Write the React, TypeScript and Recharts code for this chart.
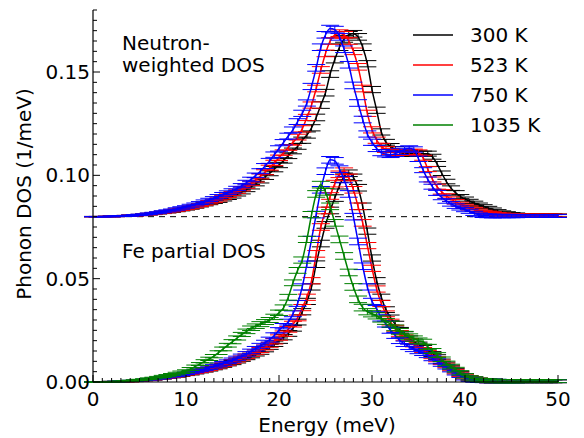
import React from 'react';
import { LineChart, Line, XAxis, YAxis, ErrorBar, ReferenceLine, Legend, Customized } from 'recharts';

// energy grid (meV)
const ENERGY = [
  0, 0.5, 1, 1.5, 2, 2.5, 3, 3.5, 4, 4.5,
  5, 5.5, 6, 6.5, 7, 7.5, 8, 8.5, 9, 9.5,
  10, 10.5, 11, 11.5, 12, 12.5, 13, 13.5, 14, 14.5,
  15, 15.5, 16, 16.5, 17, 17.5, 18, 18.5, 19, 19.5,
  20, 20.5, 21, 21.5, 22, 22.5, 23, 23.5, 24, 24.5,
  25, 25.5, 26, 26.5, 27, 27.5, 28, 28.5, 29, 29.5,
  30, 30.5, 31, 31.5, 32, 32.5, 33, 33.5, 34, 34.5,
  35, 35.5, 36, 36.5, 37, 37.5, 38, 38.5, 39, 39.5,
  40, 40.5, 41, 41.5, 42, 42.5, 43, 43.5, 44, 44.5,
  45, 45.5, 46, 46.5, 47, 47.5, 48, 48.5, 49, 49.5,
  50,
];

// Fe partial DOS (1/meV)
const FE_300 = [
  0, 0, 0, 0.0001, 0.0001, 0.0001, 0.0002, 0.0003, 0.0004, 0.0005,
  0.0007, 0.0009, 0.0011, 0.0013, 0.0016, 0.0019, 0.0022, 0.0025, 0.0029, 0.0033,
  0.0037, 0.0041, 0.0046, 0.0051, 0.0056, 0.0061, 0.0067, 0.0073, 0.008, 0.0087,
  0.0094, 0.0102, 0.011, 0.0119, 0.0128, 0.0137, 0.0146, 0.0158, 0.017, 0.0185,
  0.02, 0.0217, 0.0235, 0.026, 0.029, 0.034, 0.039, 0.046, 0.057, 0.067,
  0.076, 0.083, 0.089, 0.095, 0.0995, 0.101, 0.099, 0.094, 0.085, 0.073,
  0.06, 0.049, 0.041, 0.035, 0.031, 0.028, 0.025, 0.023, 0.021, 0.0195,
  0.018, 0.0165, 0.015, 0.0135, 0.012, 0.01, 0.0085, 0.007, 0.0055, 0.004,
  0.003, 0.002, 0.0015, 0.001, 0.0008, 0.0006, 0.0005, 0.0004, 0.0004, 0.0004,
  0.0004, 0.0004, 0.0004, 0.0004, 0.0004, 0.0004, 0.0004, 0.0004, 0.0004, 0.0004,
  0.0004,
];
const FE_523 = [
  0, 0, 0, 0.0001, 0.0001, 0.0001, 0.0002, 0.0003, 0.0004, 0.0005,
  0.0007, 0.0009, 0.0011, 0.0014, 0.0017, 0.002, 0.0023, 0.0027, 0.0031, 0.0035,
  0.0039, 0.0043, 0.0048, 0.0053, 0.0058, 0.0064, 0.007, 0.0077, 0.0084, 0.0091,
  0.0099, 0.0107, 0.0116, 0.0125, 0.0135, 0.0145, 0.0155, 0.0167, 0.018, 0.0197,
  0.0215, 0.0234, 0.0255, 0.028, 0.031, 0.036, 0.041, 0.049, 0.062, 0.075,
  0.083, 0.09, 0.096, 0.1005, 0.102, 0.099, 0.093, 0.085, 0.077, 0.066,
  0.055, 0.045, 0.038, 0.033, 0.029, 0.026, 0.0235, 0.0215, 0.0198, 0.0183,
  0.017, 0.0155, 0.014, 0.0125, 0.011, 0.0095, 0.008, 0.0065, 0.005, 0.0037,
  0.0025, 0.0018, 0.0012, 0.0009, 0.0007, 0.0005, 0.0004, 0.0004, 0.0004, 0.0004,
  0.0004, 0.0004, 0.0004, 0.0004, 0.0004, 0.0004, 0.0004, 0.0004, 0.0004, 0.0004,
  0.0004,
];
const FE_750 = [
  0, 0, 0, 0.0001, 0.0001, 0.0002, 0.0003, 0.0004, 0.0005, 0.0006,
  0.0008, 0.001, 0.0013, 0.0015, 0.0018, 0.0021, 0.0025, 0.0029, 0.0033, 0.0037,
  0.0042, 0.0047, 0.0052, 0.0057, 0.0063, 0.0069, 0.0076, 0.0083, 0.009, 0.0098,
  0.0106, 0.0115, 0.0125, 0.0136, 0.0148, 0.0161, 0.0175, 0.019, 0.0205, 0.0225,
  0.025, 0.027, 0.029, 0.033, 0.038, 0.046, 0.057, 0.069, 0.081, 0.093,
  0.102, 0.1075, 0.107, 0.103, 0.098, 0.091, 0.08, 0.068, 0.056, 0.046,
  0.039, 0.0355, 0.031, 0.028, 0.025, 0.0225, 0.02, 0.0185, 0.017, 0.016,
  0.015, 0.014, 0.013, 0.0115, 0.01, 0.0087, 0.0074, 0.006, 0.0045, 0.0032,
  0.002, 0.0013, 0.0009, 0.0007, 0.0006, 0.0005, 0.0005, 0.0005, 0.0004, 0.0004,
  0.0004, 0.0004, 0.0004, 0.0004, 0.0004, 0.0004, 0.0004, 0.0004, 0.0004, 0.0004,
  0.0004,
];
const FE_1035 = [
  0, 0, 0, 0.0001, 0.0001, 0.0002, 0.0003, 0.0004, 0.0006, 0.0008,
  0.001, 0.0013, 0.0016, 0.0019, 0.0023, 0.0027, 0.0031, 0.0036, 0.0041, 0.0047,
  0.0053, 0.0063, 0.0075, 0.0087, 0.01, 0.0112, 0.0125, 0.0142, 0.016, 0.0178,
  0.0195, 0.0213, 0.023, 0.0245, 0.026, 0.027, 0.028, 0.029, 0.03, 0.0315,
  0.0335, 0.036, 0.041, 0.048, 0.054, 0.059, 0.069, 0.081, 0.091, 0.0955,
  0.092, 0.085, 0.077, 0.069, 0.061, 0.053, 0.046, 0.04, 0.036, 0.034,
  0.033, 0.032, 0.0305, 0.0293, 0.028, 0.0262, 0.0245, 0.0232, 0.022, 0.021,
  0.02, 0.0195, 0.017, 0.015, 0.013, 0.011, 0.009, 0.0075, 0.006, 0.0045,
  0.003, 0.002, 0.0015, 0.001, 0.0008, 0.0006, 0.0005, 0.0005, 0.0004, 0.0004,
  0.0004, 0.0004, 0.0004, 0.0004, 0.0004, 0.0004, 0.0004, 0.0004, 0.0004, 0.0004,
  0.0004,
];

// neutron-weighted DOS (1/meV), plotted shifted up by NW_OFFSET
const NW_OFFSET = 0.08;
const NW_300 = [
  0, 0, 0, 0.0001, 0.0001, 0.0002, 0.0003, 0.0004, 0.0005, 0.0006,
  0.0008, 0.001, 0.0012, 0.0014, 0.0017, 0.002, 0.0023, 0.0026, 0.003, 0.0034,
  0.0038, 0.0043, 0.0048, 0.0054, 0.006, 0.0066, 0.0072, 0.0078, 0.0085, 0.0092,
  0.01, 0.011, 0.012, 0.0132, 0.0145, 0.016, 0.0175, 0.0192, 0.021, 0.023,
  0.025, 0.0272, 0.0295, 0.0318, 0.034, 0.037, 0.0395, 0.043, 0.048, 0.054,
  0.06, 0.069, 0.076, 0.082, 0.086, 0.088, 0.0885, 0.087, 0.082, 0.074,
  0.0615, 0.0515, 0.041, 0.036, 0.034, 0.0325, 0.031, 0.0305, 0.0305, 0.0305,
  0.0305, 0.0305, 0.0305, 0.029, 0.0255, 0.021, 0.017, 0.0138, 0.0115, 0.0097,
  0.0085, 0.0074, 0.0065, 0.0057, 0.0049, 0.0041, 0.0033, 0.0026, 0.002, 0.0016,
  0.0012, 0.001, 0.0008, 0.0007, 0.0006, 0.0006, 0.0006, 0.0006, 0.0006, 0.0006,
  0.0006,
];
const NW_523 = [
  0, 0, 0, 0.0001, 0.0001, 0.0002, 0.0003, 0.0004, 0.0005, 0.0006,
  0.0008, 0.001, 0.0012, 0.0015, 0.0018, 0.0021, 0.0024, 0.0028, 0.0032, 0.0036,
  0.004, 0.0045, 0.005, 0.0056, 0.0063, 0.007, 0.0077, 0.0085, 0.0093, 0.0102,
  0.0112, 0.0123, 0.0135, 0.0148, 0.0162, 0.0178, 0.0195, 0.0215, 0.0237, 0.026,
  0.0285, 0.031, 0.0335, 0.036, 0.0385, 0.0425, 0.048, 0.054, 0.062, 0.071,
  0.079, 0.085, 0.088, 0.0888, 0.088, 0.085, 0.08, 0.0725, 0.062, 0.05,
  0.042, 0.037, 0.034, 0.0325, 0.0315, 0.031, 0.031, 0.031, 0.0312, 0.0314,
  0.031, 0.0285, 0.023, 0.018, 0.0145, 0.012, 0.01, 0.0085, 0.0072, 0.006,
  0.005, 0.0042, 0.0035, 0.0028, 0.0022, 0.0018, 0.0015, 0.0012, 0.001, 0.0008,
  0.0007, 0.0006, 0.0006, 0.0005, 0.0005, 0.0005, 0.0005, 0.0005, 0.0005, 0.0005,
  0.0005,
];
const NW_750 = [
  0, 0, 0, 0.0001, 0.0001, 0.0002, 0.0003, 0.0004, 0.0005, 0.0007,
  0.0009, 0.0011, 0.0014, 0.0017, 0.002, 0.0024, 0.0028, 0.0032, 0.0037, 0.0042,
  0.0047, 0.0053, 0.0059, 0.0066, 0.0073, 0.0081, 0.0089, 0.0098, 0.0108, 0.0116,
  0.0125, 0.0137, 0.015, 0.0165, 0.018, 0.02, 0.022, 0.0245, 0.027, 0.03,
  0.033, 0.036, 0.039, 0.042, 0.046, 0.05, 0.055, 0.063, 0.072, 0.082,
  0.088, 0.091, 0.0905, 0.087, 0.081, 0.0735, 0.0635, 0.055, 0.047, 0.04,
  0.036, 0.033, 0.031, 0.0303, 0.03, 0.0305, 0.0315, 0.0325, 0.033, 0.0325,
  0.028, 0.0225, 0.018, 0.0145, 0.0115, 0.0093, 0.0076, 0.0062, 0.0051, 0.0042,
  0.0034, 0.0026, 0.0016, 0.0009, 0.0005, 0.0004, 0.0003, 0.0003, 0.0003, 0.0003,
  0.0003, 0.0003, 0.0003, 0.0003, 0.0003, 0.0003, 0.0003, 0.0003, 0.0003, 0.0003,
  0.0003,
];

// estimated uncertainty, shared by all curves
const DOS_ERR = [
  0.0001, 0.0001, 0.0001, 0.0001, 0.0002, 0.0002, 0.0002, 0.0002, 0.0003, 0.0003,
  0.0003, 0.0003, 0.0004, 0.0004, 0.0004, 0.0005, 0.0005, 0.0005, 0.0006, 0.0006,
  0.0006, 0.0007, 0.0007, 0.0007, 0.0008, 0.0008, 0.0008, 0.0009, 0.0009, 0.0009,
  0.001, 0.001, 0.001, 0.0011, 0.0011, 0.0011, 0.0012, 0.0012, 0.0012, 0.0013,
  0.0013, 0.0013, 0.0014, 0.0014, 0.0014, 0.0015, 0.0015, 0.0015, 0.0016, 0.0016,
  0.0016, 0.0016, 0.0016, 0.0016, 0.0016, 0.0016, 0.0016, 0.0016, 0.0016, 0.0015,
  0.0015, 0.0015, 0.0015, 0.0014, 0.0014, 0.0014, 0.0014, 0.0013, 0.0013, 0.0013,
  0.0013, 0.0012, 0.0012, 0.0012, 0.0012, 0.0011, 0.0011, 0.0011, 0.0011, 0.001,
  0.001, 0.001, 0.001, 0.0009, 0.0009, 0.0009, 0.0009, 0.0008, 0.0008, 0.0008,
  0.0008, 0.0008, 0.0007, 0.0007, 0.0007, 0.0007, 0.0007, 0.0007, 0.0007, 0.0007,
  0.0007,
];

const TEMPS = ['300 K', '523 K', '750 K', '1035 K'];
const COLORS = ['#000000', '#ff0000', '#0000ff', '#008000'];
const X_MAJOR = [0, 10, 20, 30, 40, 50];
const Y_MAJOR = [0, 0.05, 0.1, 0.15];

const FONT = 'DejaVu Sans, sans-serif';
const FS = 20;
const PLOT = { left: 93, right: 558, top: 10, bottom: 382 };

const xTicks = Array.from({ length: 51 }, (_, i) => i);
const yTicks = Array.from({ length: 37 }, (_, i) => +(i * 0.005).toFixed(3));
const isMajor = (v: number, list: number[]) => list.some((m) => Math.abs(m - v) < 1e-6);

const data = ENERGY.map((e, i) => ({
  e,
  err: DOS_ERR[i],
  fe300: FE_300[i],
  fe523: FE_523[i],
  fe750: FE_750[i],
  fe1035: FE_1035[i],
  nw300: NW_300[i] + NW_OFFSET,
  nw523: NW_523[i] + NW_OFFSET,
  nw750: NW_750[i] + NW_OFFSET,
}));

const feKeys = ['fe300', 'fe523', 'fe750', 'fe1035'];
const nwKeys = ['nw300', 'nw523', 'nw750'];

const BottomTick = ({ x, payload }: any) => {
  const major = isMajor(payload.value, X_MAJOR);
  return (
    <g>
      <line x1={x} x2={x} y1={PLOT.bottom} y2={PLOT.bottom - (major ? 7 : 4)} stroke="#000" />
      {major && (
        <text x={x} y={406} textAnchor="middle" fontSize={FS} fontFamily={FONT} fill="#000">
          {payload.value}
        </text>
      )}
    </g>
  );
};

const TopTick = ({ x, payload }: any) => {
  const major = isMajor(payload.value, X_MAJOR);
  return <line x1={x} x2={x} y1={PLOT.top} y2={PLOT.top + (major ? 7 : 4)} stroke="#000" />;
};

const LeftTick = ({ y, payload }: any) => {
  const major = isMajor(payload.value, Y_MAJOR);
  return (
    <g>
      <line x1={PLOT.left} x2={PLOT.left + (major ? 7 : 4)} y1={y} y2={y} stroke="#000" />
      {major && (
        <text x={90} y={y + 7} textAnchor="end" fontSize={FS} fontFamily={FONT} fill="#000">
          {payload.value.toFixed(2)}
        </text>
      )}
    </g>
  );
};

const RightTick = ({ y, payload }: any) => {
  const major = isMajor(payload.value, Y_MAJOR);
  return <line x1={PLOT.right} x2={PLOT.right - (major ? 7 : 4)} y1={y} y2={y} stroke="#000" />;
};

const Annotations = () => (
  <g fontFamily={FONT} fontSize={FS} fill="#000">
    <text x={122} y={50}>Neutron-</text>
    <text x={122} y={72}>weighted DOS</text>
    <text x={122} y={258}>Fe partial DOS</text>
    <text x={327} y={432} textAnchor="middle">Energy (meV)</text>
    <text x={31} y={194} textAnchor="middle" transform="rotate(-90, 31, 194)">
      Phonon DOS (1/meV)
    </text>
  </g>
);

const TempLegend = () => (
  <svg width={150} height={130}>
    {TEMPS.map((t, i) => (
      <g key={t}>
        <line x1={8} x2={48} y1={17 + i * 30} y2={17 + i * 30} stroke={COLORS[i]} strokeWidth={1.5} />
        <text x={65} y={24 + i * 30} fontSize={FS} fontFamily={FONT} fill="#000">{t}</text>
      </g>
    ))}
  </svg>
);

export default function App() {
  return (
    <div style={{ position: 'absolute', left: 0, top: 0, width: 584, height: 438, background: '#fff' }}>
      <LineChart width={584} height={438} data={data} margin={{ top: 10, right: 26, bottom: 0, left: 0 }}>
        <XAxis
          dataKey="e"
          type="number"
          domain={[0, 50]}
          ticks={xTicks}
          interval={0}
          height={56}
          tickLine={false}
          axisLine={{ stroke: '#000', strokeWidth: 1.2 }}
          tick={<BottomTick />}
        />
        <XAxis
          xAxisId="top"
          orientation="top"
          dataKey="e"
          type="number"
          domain={[0, 50]}
          ticks={xTicks}
          interval={0}
          height={0}
          tickLine={false}
          axisLine={{ stroke: '#000', strokeWidth: 1.2 }}
          tick={<TopTick />}
        />
        <YAxis
          type="number"
          domain={[0, 0.18]}
          allowDataOverflow
          ticks={yTicks}
          interval={0}
          width={93}
          tickLine={false}
          axisLine={{ stroke: '#000', strokeWidth: 1.2 }}
          tick={<LeftTick />}
        />
        <YAxis
          yAxisId="right"
          orientation="right"
          type="number"
          domain={[0, 0.18]}
          allowDataOverflow
          ticks={yTicks}
          interval={0}
          width={0}
          tickLine={false}
          axisLine={{ stroke: '#000', strokeWidth: 1.2 }}
          tick={<RightTick />}
        />
        <ReferenceLine y={NW_OFFSET} stroke="#000" strokeWidth={1} strokeDasharray="6 5" />
        {nwKeys.map((k, i) => (
          <Line key={k} dataKey={k} type="monotone" stroke={COLORS[i]} strokeWidth={1.5} dot={false} isAnimationActive={false}>
            <ErrorBar dataKey="err" width={9} stroke={COLORS[i]} strokeWidth={1} direction="y" />
          </Line>
        ))}
        {feKeys.map((k, i) => (
          <Line key={k} dataKey={k} type="monotone" stroke={COLORS[i]} strokeWidth={1.5} dot={false} isAnimationActive={false}>
            <ErrorBar dataKey="err" width={9} stroke={COLORS[i]} strokeWidth={1} direction="y" />
          </Line>
        ))}
        <Legend
          layout="vertical"
          align="center"
          verticalAlign="middle"
          content={<TempLegend />}
          wrapperStyle={{ left: 405, top: 18, width: 150, height: 130 }}
        />
        <Customized component={Annotations} />
      </LineChart>
    </div>
  );
}
